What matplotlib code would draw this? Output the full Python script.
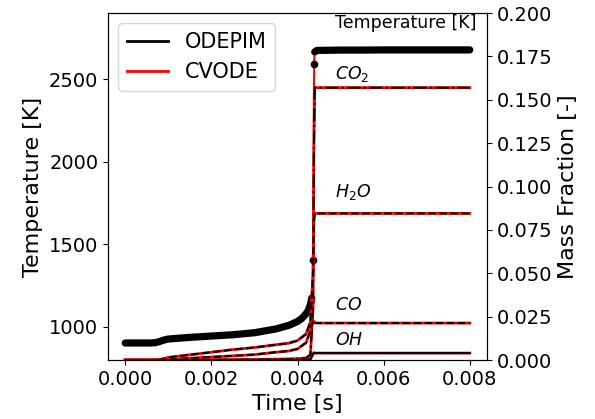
import matplotlib
matplotlib.use("Agg")
import matplotlib.pyplot as plt
from matplotlib.lines import Line2D

# ---------------- data ----------------
# ODEPIM temperature (pre-ignition, ignition points, post-ignition)
t_pre = [0.0, 0.0003, 0.0006, 0.0007, 0.0008, 0.0009, 0.0010, 0.0015, 0.0020,
         0.0025, 0.0030, 0.0035, 0.0038, 0.0040, 0.0041, 0.0042, 0.00425,
         0.0043, 0.00433]
T_pre = [903, 903, 903, 905, 912, 921, 927, 937, 945, 953, 965, 988, 1010,
         1033, 1052, 1080, 1100, 1135, 1175]
t_ign = [0.00437, 0.00438]
T_ign = [1405, 2590]
t_post = [0.00440, 0.00445, 0.0050, 0.0055, 0.0060, 0.0065, 0.0070, 0.0075, 0.0080]
T_post = [2665, 2674, 2676, 2676, 2677, 2677, 2677, 2677, 2677]

# CVODE temperature
t_cv = [0.0, 0.0003, 0.0006, 0.0007, 0.0008, 0.0009, 0.0010, 0.0015, 0.0020,
        0.0025, 0.0030, 0.0035, 0.0038, 0.0040, 0.0041, 0.0042, 0.00425,
        0.0043, 0.00433, 0.00436, 0.00437, 0.00438, 0.00439, 0.00440,
        0.00445, 0.0050, 0.0055, 0.0060, 0.0065, 0.0070, 0.0075, 0.0080]
T_cv = [903, 903, 903, 905, 912, 921, 927, 937, 945, 953, 965, 988, 1010,
        1033, 1052, 1080, 1100, 1135, 1175, 1300, 1600, 2400, 2620, 2665,
        2674, 2676, 2676, 2677, 2677, 2677, 2677, 2677]

# species mass fractions
t_sp = [0.0, 0.0007, 0.0009, 0.0010, 0.0015, 0.0020, 0.0025, 0.0030, 0.0035,
        0.0038, 0.0040, 0.0042, 0.0043, 0.00436, 0.00438, 0.00440, 0.00450,
        0.0050, 0.0060, 0.0070, 0.0080]
Y_CO2 = [0.0, 0.0, 0.0, 0.0, 0.00005, 0.0001, 0.0002, 0.0003, 0.0005,
         0.0006, 0.0008, 0.0012, 0.003, 0.03, 0.12, 0.157, 0.157,
         0.157, 0.157, 0.157, 0.157]
Y_H2O = [0.0, 0.0, 0.0008, 0.0015, 0.0030, 0.0045, 0.0060, 0.0072, 0.0088,
         0.0097, 0.0112, 0.0150, 0.022, 0.050, 0.080, 0.0845, 0.0845,
         0.0845, 0.0845, 0.0845, 0.0845]
Y_CO = [0.0, 0.0, 0.0, 0.0003, 0.0010, 0.0017, 0.0024, 0.0031, 0.0045,
        0.0052, 0.0064, 0.0100, 0.017, 0.023, 0.022, 0.0214, 0.0213,
        0.0213, 0.0213, 0.0213, 0.0213]
Y_OH = [0.0, 0.0, 0.0, 0.0, 0.0, 0.0, 0.0, 0.0, 0.00002,
        0.00004, 0.00006, 0.0001, 0.0005, 0.0035, 0.0042, 0.0040, 0.0040,
        0.0040, 0.0040, 0.0040, 0.0040]

species = [("CO2", Y_CO2, "-.", 0.165, "$CO_2$"),
           ("H2O", Y_H2O, "--", 0.0966, "$H_2O$"),
           ("CO", Y_CO, "--", 0.0316, "$CO$"),
           ("OH", Y_OH, "-", 0.0115, "$OH$")]

xticks = [0.000, 0.002, 0.004, 0.006, 0.008]
yticks_T = [1000, 1500, 2000, 2500]
yticks_Y = [0.000, 0.025, 0.050, 0.075, 0.100, 0.125, 0.150, 0.175, 0.200]

# ---------------- plot ----------------
fig = plt.figure(figsize=(5.95, 4.19), dpi=100)
ax1 = fig.add_axes([0.1815, 0.1408, 0.637, 0.828])
ax2 = ax1.twinx()

ax1.plot(t_cv, T_cv, color="red", lw=1.5, zorder=2)
ax1.plot(t_pre, T_pre, color="black", lw=5.2, solid_capstyle="round", zorder=3)
ax1.plot(t_ign, T_ign, "o", color="black", ms=4.5, zorder=3)
ax1.plot(t_post, T_post, color="black", lw=5.2, solid_capstyle="round", zorder=3)

for name, Y, ls, ylab, lab in species:
    ax2.plot(t_sp, Y, color="red", lw=2.0, ls="-")
    ax2.plot(t_sp, Y, color="black", lw=1.5, ls=ls)
    ax2.text(0.00488, ylab, lab, fontsize=12.5, va="center", ha="left")
ax2.text(0.00488, 0.194, "Temperature [K]", fontsize=12.5, va="center", ha="left")

ax1.set_xlim(-0.0004, 0.0084)
ax1.set_ylim(800, 2900)
ax2.set_ylim(0.0, 0.2)
ax1.set_xticks(xticks)
ax1.set_xticklabels([f"{v:.3f}" for v in xticks])
ax1.set_yticks(yticks_T)
ax2.set_yticks(yticks_Y)
ax2.set_yticklabels([f"{v:.3f}" for v in yticks_Y])
ax1.tick_params(labelsize=14)
ax2.tick_params(labelsize=14)

ax1.set_xlabel("Time [s]", fontsize=16)
ax1.set_ylabel("Temperature [K]", fontsize=16)
ax2.set_ylabel("Mass Fraction [-]", fontsize=16)

handles = [Line2D([], [], color="black", lw=2),
           Line2D([], [], color="red", lw=2)]
ax1.legend(handles, ["ODEPIM", "CVODE"], loc="upper left", fontsize=15)

fig.savefig("out.png", dpi=100)
